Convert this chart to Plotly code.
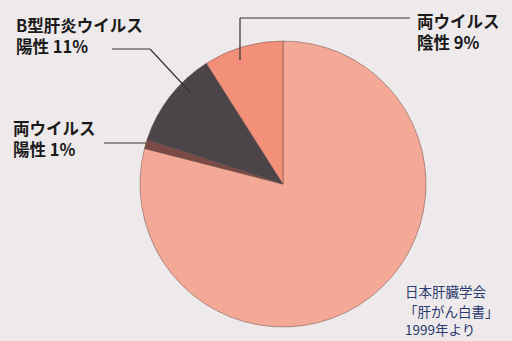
import plotly.graph_objects as go

labels = ["C型肝炎ウイルス陽性", "両ウイルス陽性", "B型肝炎ウイルス陽性", "両ウイルス陰性"]
values = [79, 1, 11, 9]
colors = ["#f4a896", "#7a4a44", "#4b4549", "#f2907a"]

W, H = 512, 341

def px(x, y):
    return x / W, 1 - y / H

fig = go.Figure(go.Pie(
    labels=labels, values=values, sort=False, direction="clockwise",
    rotation=0, textinfo="none", hoverinfo="label+percent",
    marker=dict(colors=colors, line=dict(color="#6a4a46", width=0.5)),
    domain=dict(x=[140 / W, 426 / W], y=[1 - 327 / H, 1 - 41 / H]),
    showlegend=False,
))

font = dict(family="Noto Sans CJK JP", size=16.5, color="#1a1a1a")
ann = []
def label(x, yc, text, f=font):
    ax, ay = px(x, yc)
    ann.append(dict(x=ax, y=ay, xref="paper", yref="paper", text=text, showarrow=False,
                    xanchor="left", yanchor="middle", align="left", font=f))

label(14, 35, "<b>B型肝炎ウイルス<br>陽性 11%</b>")
label(11, 138, "<b>両ウイルス<br>陽性 1%</b>")
label(415, 31, "<b>両ウイルス<br>陰性 9%</b>")

src_font = dict(family="Noto Sans CJK JP", size=13.5, color="#2b3a6e")
label(403, 291, "日本肝臓学会", src_font)
label(402, 311, "「肝がん白書」", src_font)
label(403, 329, "1999年より", src_font)

shapes = []
def seg(x0, y0, x1, y1):
    a, b = px(x0, y0)
    c, d = px(x1, y1)
    shapes.append(dict(type="line", xref="paper", yref="paper", x0=a, y0=b, x1=c, y1=d,
                       line=dict(color="#333333", width=1.2)))

seg(112, 49, 150, 49)
seg(150, 49, 190, 92)
seg(104, 143, 146, 143)
seg(240, 18, 410, 18)
seg(240, 18, 240, 60)

fig.update_layout(
    width=W, height=H, margin=dict(l=0, r=0, t=0, b=0),
    paper_bgcolor="#eeeaeb", plot_bgcolor="#eeeaeb",
    annotations=ann, shapes=shapes,
)
fig.write_html("out.html")
